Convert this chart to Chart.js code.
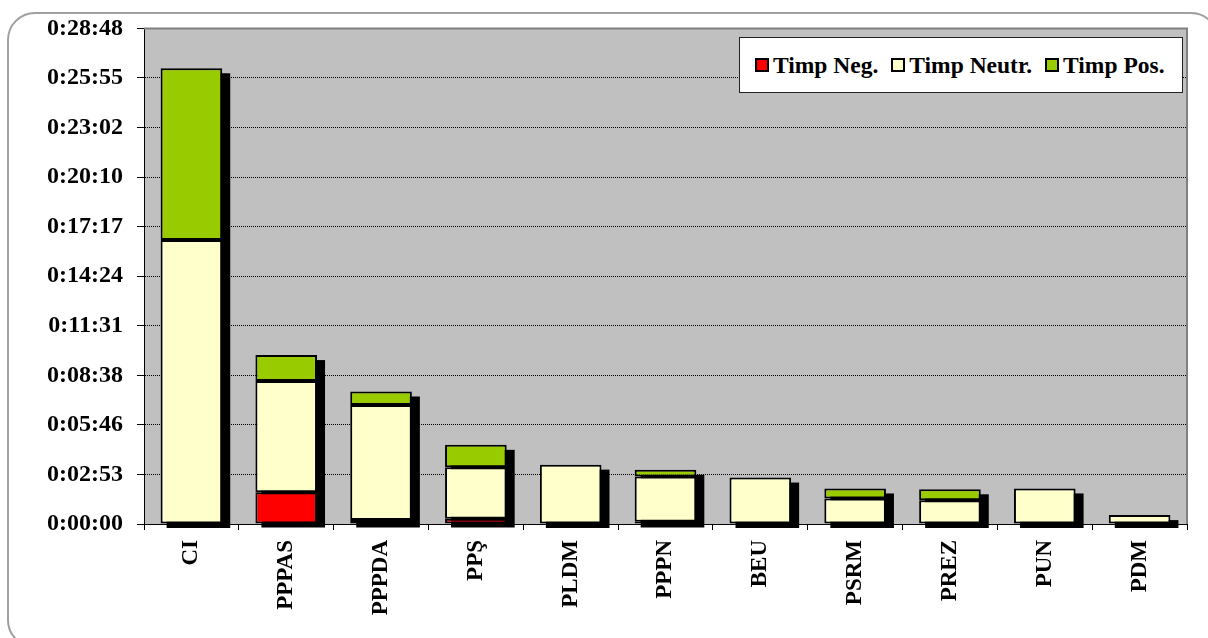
<!DOCTYPE html>
<html>
<head>
<meta charset="utf-8">
<script src="https://cdn.jsdelivr.net/npm/chart.js@4.4.1/dist/chart.umd.min.js"></script>
<style>
  html, body { margin: 0; padding: 0; background: #fff; overflow: hidden; }
  #wrap { position: relative; width: 1208px; height: 638px; }
  #frame { position: absolute; left: 7px; top: 12px; width: 1212px; height: 636px;
    border: 2px solid #a0a0a0; border-radius: 28px; box-sizing: border-box; }
  #stackChart { position: absolute; left: 0; top: 0; }
  #legend { position: absolute; left: 739px; top: 37px; width: 444px; height: 56px;
    box-sizing: border-box; border: 1px solid #222; background: #fff;
    display: flex; align-items: center; padding-left: 15px;
    font: bold 23.5px "Liberation Serif", "Times New Roman", serif; color: #000; }
  #legend span { display: flex; align-items: center; margin-right: 13px; white-space: nowrap; }
  #legend i { display: inline-block; width: 10px; height: 10px; border: 2px solid #000; margin-right: 4px; }
</style>
</head>
<body>
<div id="wrap">
  <div id="frame"></div>
  <canvas id="stackChart" width="1208" height="638"></canvas>
  <div id="legend">
    <span><i style="background:#ff0000"></i>Timp Neg.</span>
    <span><i style="background:#ffffcc"></i>Timp Neutr.</span>
    <span><i style="background:#99cc00"></i>Timp Pos.</span>
  </div>
</div>
<script>
// date (secunde)
const parties = ['CI', 'PPPAS', 'PPPDA', 'PPŞ', 'PLDM', 'PPPN', 'BEU', 'PSRM', 'PREZ', 'PUN', 'PDM'];
const timpNeg = [0, 111, 14, 18, 0, 8, 0, 0, 0, 0, 0];
const timpNeutr = [990, 388, 401, 180, 207, 158, 162, 89, 83, 124, 31];
const timpPos = [599, 90, 47, 78, 0, 23, 0, 35, 38, 0, 0];
const yMax = 1728;
const yStep = 172.8;

const serif = '"Liberation Serif", "Times New Roman", serif';

function fmtTime(v) {
  const s = Math.round(v);
  const m = Math.floor(s / 60);
  const sec = s % 60;
  return '0:' + String(m).padStart(2, '0') + ':' + String(sec).padStart(2, '0');
}

// fundal gri + umbra barelor
const plotBg = {
  id: 'plotBg',
  beforeDraw(chart) {
    const { ctx, chartArea: a } = chart;
    ctx.save();
    ctx.fillStyle = '#c0c0c0';
    ctx.fillRect(a.left, a.top, a.right - a.left, a.bottom - a.top);
    ctx.restore();
  },
  beforeDatasetsDraw(chart) {
    const { ctx, chartArea: a } = chart;
    ctx.save();
    ctx.strokeStyle = '#808080';
    ctx.lineWidth = 2;
    ctx.beginPath();
    ctx.moveTo(a.left, a.top);
    ctx.lineTo(a.right, a.top);
    ctx.lineTo(a.right, a.bottom);
    ctx.stroke();
    ctx.fillStyle = '#000';
    const metas = [0, 1, 2].map(i => chart.getDatasetMeta(i));
    parties.forEach((p, i) => {
      const bars = metas.map(m => m.data[i]);
      const top = Math.min(...bars.map(b => b.y));
      const base = bars[0].base;
      const w = bars[0].width;
      const x = bars[0].x - w / 2 - 1;
      ctx.fillRect(x + 7, top + 5, w + 2, base - top - 1);
    });
    ctx.restore();
  }
};

new Chart(document.getElementById('stackChart'), {
  type: 'bar',
  data: {
    labels: parties,
    datasets: [
      { label: 'Timp Neg.', data: timpNeg, backgroundColor: '#ff0000' },
      { label: 'Timp Neutr.', data: timpNeutr, backgroundColor: '#ffffcc' },
      { label: 'Timp Pos.', data: timpPos, backgroundColor: '#99cc00' }
    ].map(d => Object.assign(d, {
      borderColor: '#000',
      borderWidth: 2,
      borderSkipped: false,
      barPercentage: 0.65,
      categoryPercentage: 1
    }))
  },
  options: {
    responsive: false,
    animation: false,
    layout: { padding: { left: 0, top: 25, right: 21, bottom: 0 } },
    plugins: {
      legend: { display: false },
      tooltip: { enabled: false }
    },
    scales: {
      x: {
        stacked: true,
        afterFit: s => { s.height = 114; },
        grid: {
          offset: true,
          drawOnChartArea: false,
          tickLength: 6,
          tickColor: '#000',
          lineWidth: 1
        },
        border: { color: '#000', width: 1 },
        ticks: {
          color: '#000',
          minRotation: 90,
          maxRotation: 90,
          padding: 10,
          autoSkip: false,
          font: { family: serif, size: 23, weight: 'bold' }
        }
      },
      y: {
        stacked: true,
        min: 0,
        max: yMax,
        afterFit: s => { s.width = 144; },
        grid: {
          color: ctx => (ctx.index === 0 || ctx.index === 10) ? 'rgba(0,0,0,0)' : '#000',
          tickColor: '#000',
          tickLength: 7,
          lineWidth: 1
        },
        border: { color: '#000', width: 1, dash: [1, 1] },
        ticks: {
          stepSize: yStep,
          color: '#000',
          padding: 14,
          callback: v => fmtTime(v),
          font: { family: serif, size: 24, weight: 'bold' }
        }
      }
    }
  },
  plugins: [plotBg]
});
</script>
</body>
</html>
